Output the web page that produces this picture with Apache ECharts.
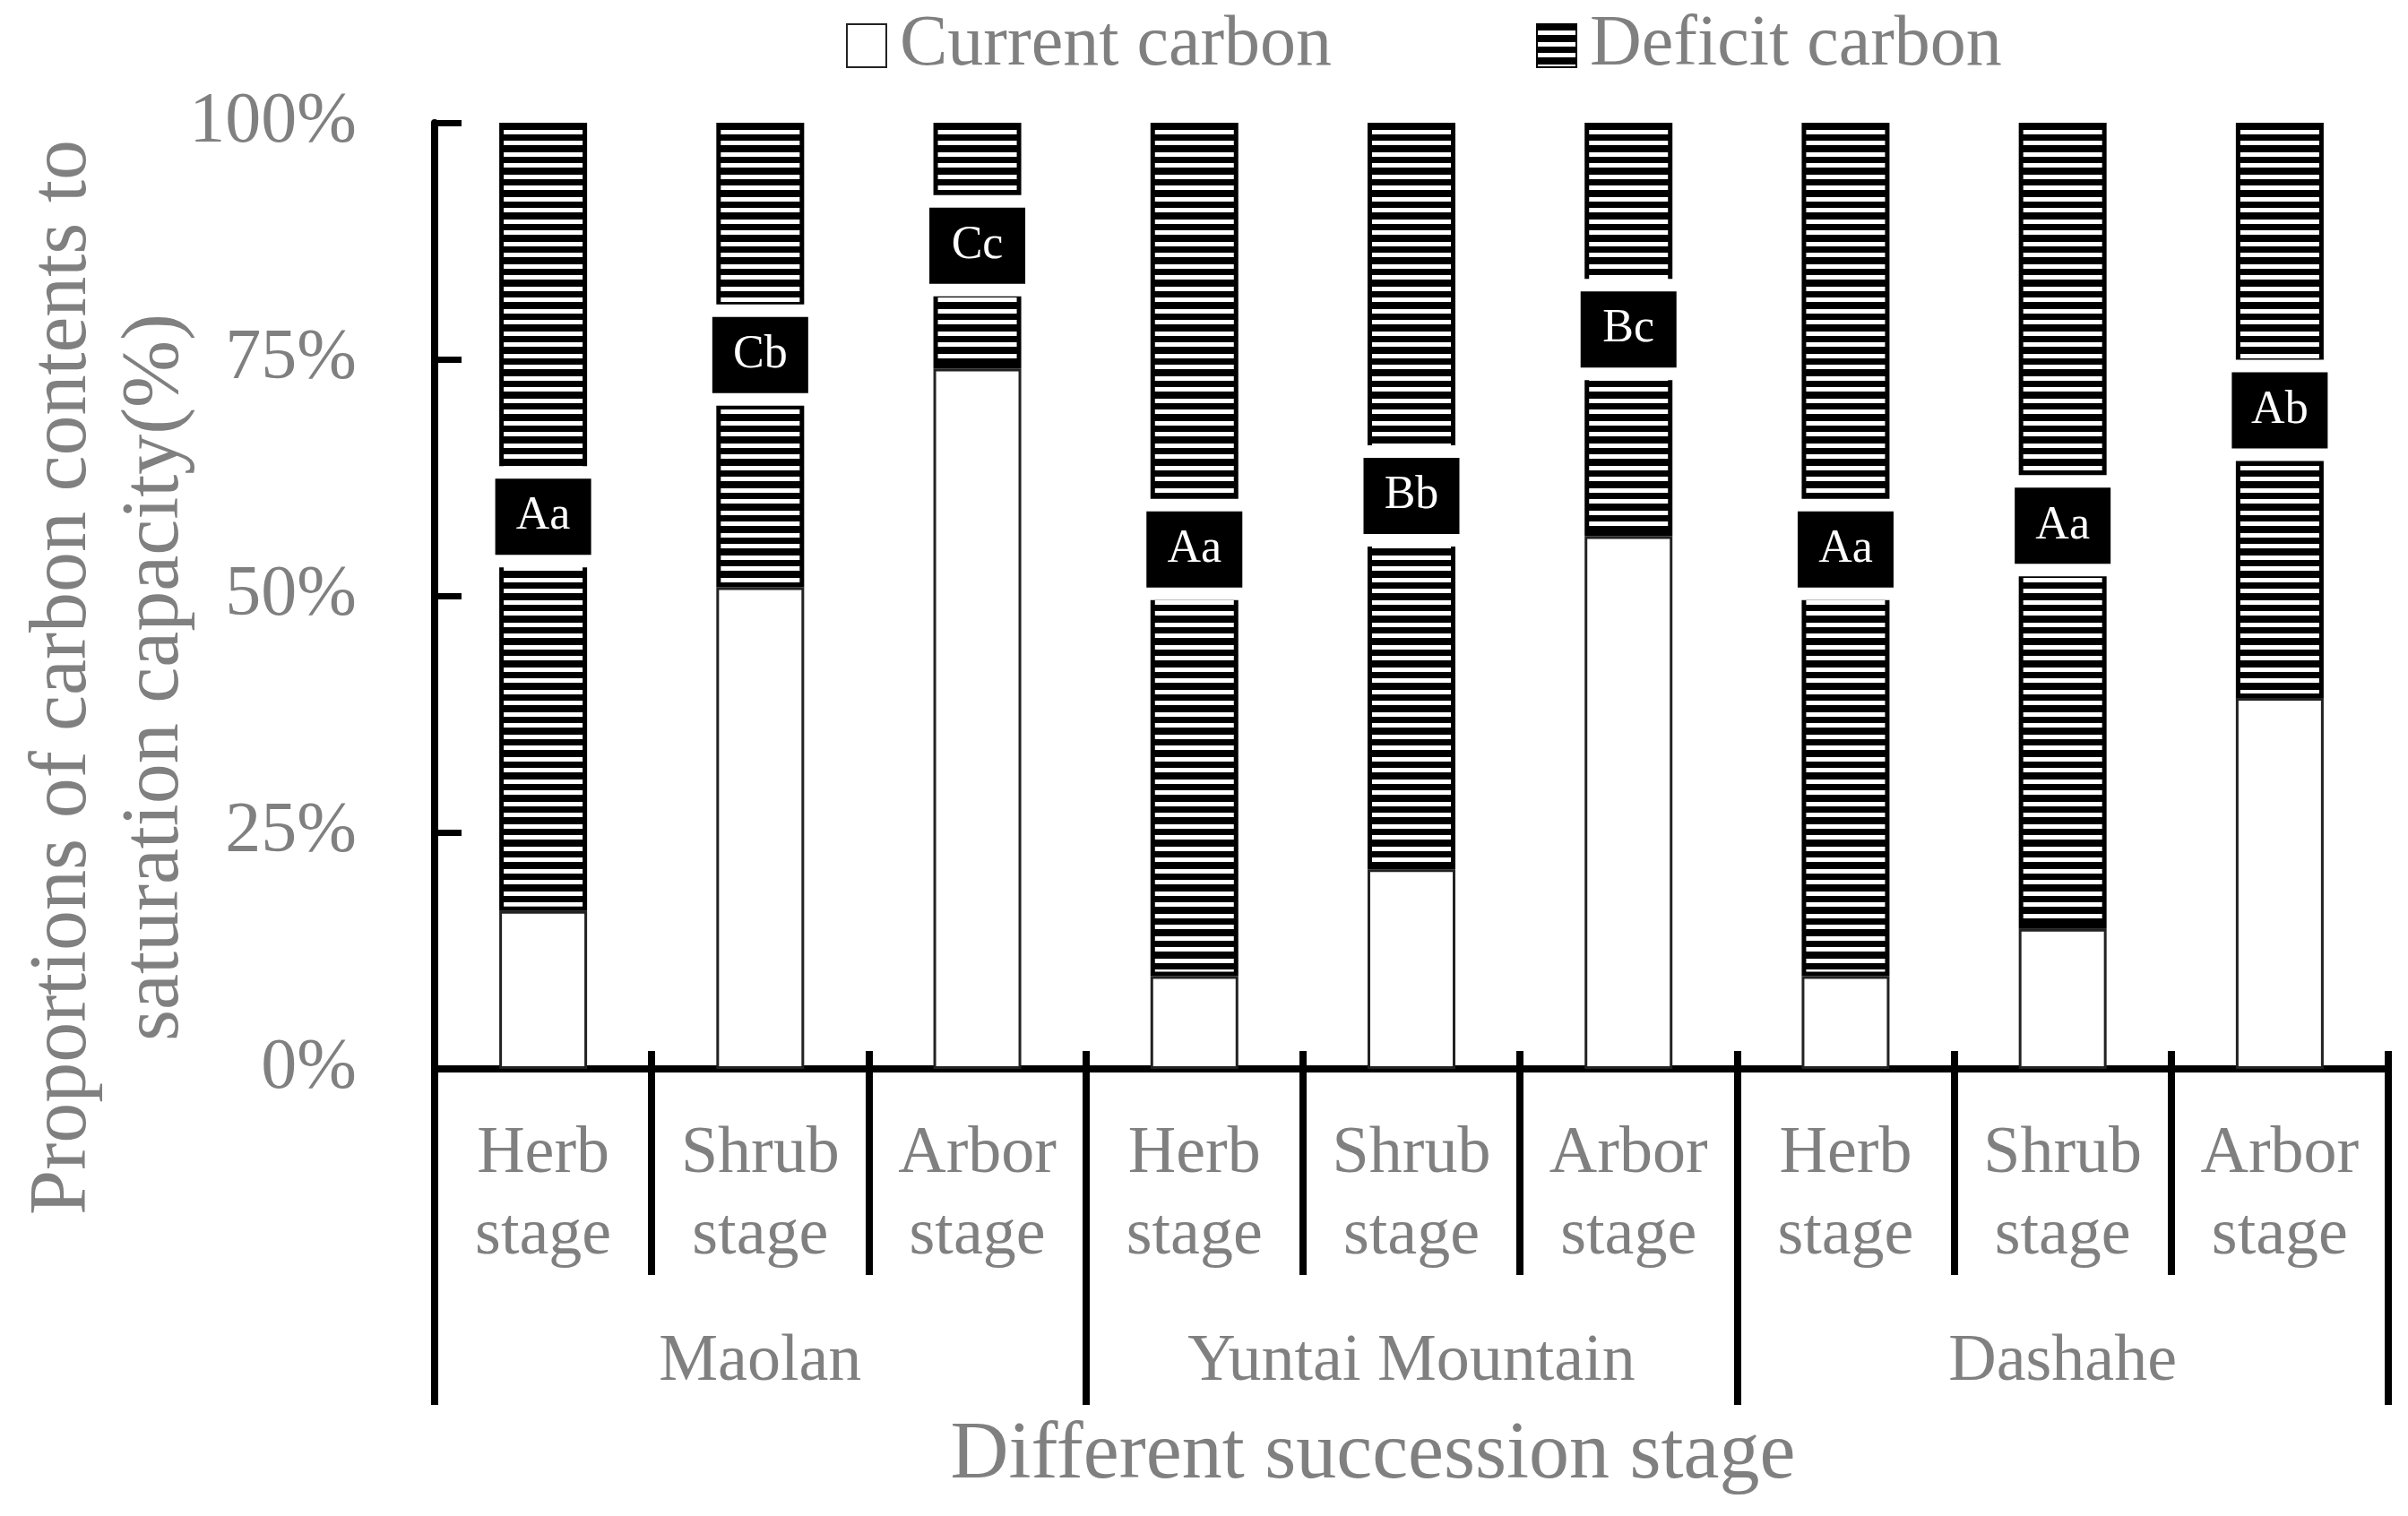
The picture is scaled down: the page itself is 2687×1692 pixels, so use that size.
<!DOCTYPE html>
<html>
<head>
<meta charset="utf-8">
<script src="https://cdn.jsdelivr.net/npm/echarts@6/dist/echarts.min.js"></script>
<style>
  html, body { margin: 0; padding: 0; background: #fff; }
  #chart { width: 2687px; height: 1692px; }
</style>
</head>
<body>
<div id="chart"></div>
<script>
// stage categories, grouped by site
const stages = ['Herb\nstage', 'Shrub\nstage', 'Arbor\nstage',
                'Herb\nstage', 'Shrub\nstage', 'Arbor\nstage',
                'Herb\nstage', 'Shrub\nstage', 'Arbor\nstage']
const sites = ['Maolan', 'Yuntai Mountain', 'Dashahe']

// proportion of saturation capacity (%)
const currentCarbon = [16.7, 50.9, 74.0, 9.8, 21.1, 56.3, 9.8, 14.8, 39.2]
const deficitCarbon = currentCarbon.map(v => +(100 - v).toFixed(1))

// significance letters
const letters = ['Aa', 'Cb', 'Cc', 'Aa', 'Bb', 'Bc', 'Aa', 'Aa', 'Ab']

const grey = '#808080'
const font = 'Liberation Serif'

// horizontal stripe fill for the deficit bars
const stripe = document.createElement('canvas')
stripe.width = 4
stripe.height = 25
const sctx = stripe.getContext('2d')
sctx.fillStyle = '#fff'
sctx.fillRect(0, 0, 4, 25)
sctx.fillStyle = '#000'
sctx.fillRect(0, 0, 4, 7)
sctx.fillRect(0, 12, 4, 8)

const chart = echarts.init(document.getElementById('chart'))

const option = {
    animation: false,
    backgroundColor: '#fff',
    legend: {
        top: 6,
        left: 939,
        icon: 'rect',
        itemWidth: 44,
        itemHeight: 48,
        itemGap: 228,
        textStyle: { fontFamily: font, fontSize: 80, color: grey, padding: [0, 0, 0, 10] },
        data: ['Current carbon', 'Deficit carbon']
    },
    grid: {
        left: 485,
        right: 22,
        top: 137,
        bottom: 499,
        outerBoundsMode: 'none'
    },
    xAxis: [
        {
            type: 'category',
            position: 'bottom',
            data: stages,
            axisLine: { lineStyle: { color: '#000', width: 8 } },
            axisTick: { show: true, interval: 0, length: 230, lineStyle: { color: '#000', width: 8 } },
            axisLabel: {
                interval: 0, margin: 50,
                fontFamily: font, fontSize: 74, lineHeight: 91, color: grey
            }
        },
        {
            type: 'category',
            position: 'bottom',
            data: stages,
            axisLine: { show: false },
            axisTick: { show: true, inside: true, interval: 0, length: 20, lineStyle: { color: '#000', width: 8 } },
            axisLabel: { show: false }
        },
        {
            type: 'category',
            position: 'bottom',
            data: sites,
            axisLine: { show: false },
            axisTick: { show: true, interval: 0, length: 375, lineStyle: { color: '#000', width: 8 } },
            axisLabel: {
                interval: 0, margin: 282,
                fontFamily: font, fontSize: 74, lineHeight: 91, color: grey
            },
            name: 'Different succession stage',
            nameLocation: 'middle',
            nameGap: 382,
            nameMoveOverlap: false,
            nameTextStyle: {
                fontFamily: font, fontSize: 90, lineHeight: 100, color: grey,
                padding: [0, 86, 0, 0]
            }
        }
    ],
    yAxis: {
        type: 'value',
        min: 0,
        max: 100,
        interval: 25,
        splitLine: { show: false },
        axisLine: { show: true, lineStyle: { color: '#000', width: 8 } },
        axisTick: { show: true, inside: true, length: 30, lineStyle: { color: '#000', width: 7 } },
        axisLabel: {
            formatter: '{value}%', margin: 87,
            fontFamily: font, fontSize: 80, color: grey
        },
        name: 'Proportions of carbon contents to\nsaturation capacity(%)',
        nameLocation: 'middle',
        nameRotate: 90,
        nameGap: 259,
        nameMoveOverlap: false,
        nameTextStyle: {
            fontFamily: font, fontSize: 90, lineHeight: 103, color: grey,
            padding: [0, 182, 0, 0]
        }
    },
    series: [
        {
            name: 'Current carbon',
            type: 'bar',
            stack: 'total',
            xAxisIndex: 0,
            barWidth: 98,
            data: currentCarbon,
            itemStyle: { color: '#fff', borderColor: '#222', borderWidth: 3 }
        },
        {
            name: 'Deficit carbon',
            type: 'bar',
            stack: 'total',
            xAxisIndex: 0,
            barWidth: 98,
            data: deficitCarbon,
            itemStyle: {
                color: { image: stripe, repeat: 'repeat' },
                borderColor: '#000',
                borderWidth: 5
            },
            label: {
                show: true,
                position: 'inside',
                formatter: p => letters[p.dataIndex],
                fontFamily: font,
                fontSize: 52,
                color: '#fff',
                backgroundColor: '#000',
                borderColor: '#fff',
                borderWidth: 14,
                width: 107,
                lineHeight: 85,
                align: 'center'
            }
        }
    ]
}

chart.setOption(option)
</script>
</body>
</html>
